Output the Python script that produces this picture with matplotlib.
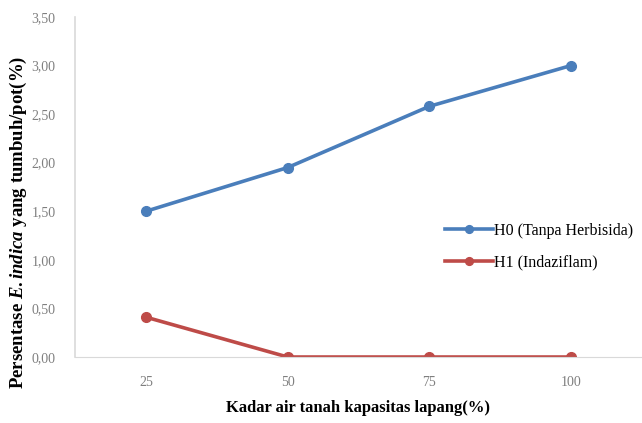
import matplotlib
matplotlib.use("Agg")
import matplotlib.pyplot as plt
from matplotlib.ticker import FuncFormatter

categories = ["25", "50", "75", "100"]
h0_values = [1.50, 1.95, 2.58, 3.00]
h1_values = [0.41, 0.00, 0.00, 0.00]
series_labels = ["H0 (Tanpa Herbisida)", "H1 (Indaziflam)"]
y_ticks = [0.0, 0.5, 1.0, 1.5, 2.0, 2.5, 3.0, 3.5]

plt.rcParams["font.family"] = ["Liberation Serif", "DejaVu Serif"]
plt.rcParams["mathtext.fontset"] = "custom"
plt.rcParams["mathtext.rm"] = "Liberation Serif:bold"
plt.rcParams["mathtext.it"] = "Liberation Serif:italic:bold"

fig = plt.figure(figsize=(6.42, 4.23), dpi=100)
ax = fig.add_axes([0.117, 0.156, 0.883, 0.804])

xs = range(len(categories))
ax.plot(xs, h0_values, color="#4A7EBB", lw=2.6, marker="o", ms=7, label=series_labels[0])
ax.plot(xs, h1_values, color="#BE4B48", lw=2.6, marker="o", ms=7, label=series_labels[1])

ax.set_xlim(-0.5, len(categories) - 0.5)
ax.set_ylim(0, 3.5)
ax.set_xticks(list(xs))
ax.set_xticklabels(categories)
ax.set_yticks(y_ticks)
ax.yaxis.set_major_formatter(FuncFormatter(lambda v, p: f"{v:.2f}".replace(".", ",")))

for side in ("top", "right"):
    ax.spines[side].set_visible(False)
ax.spines["left"].set_color("#D9D9D9")
ax.spines["bottom"].set_color("#D9D9D9")
ax.spines["left"].set_linewidth(1.2)
ax.tick_params(axis="both", length=0, colors="#7F7F7F", labelsize=10)
ax.tick_params(axis="x", pad=14)
ax.tick_params(axis="y", pad=14)

fig.text(0.557, 0.036, "Kadar air tanah kapasitas lapang(%)", ha="center", va="center",
         fontsize=12, fontweight="bold")
fig.text(0.028, 0.475, r"Persentase $\mathit{E.indica}$ yang tumbuh/pot(%)", rotation=90,
         ha="center", va="center", fontsize=13.5, fontweight="bold")

ax.legend(loc="upper left", bbox_to_anchor=(0.652, 0.395), frameon=False, fontsize=11.5,
          handlelength=3.0, handletextpad=0.1, labelspacing=1.0, borderaxespad=0,
          borderpad=0, markerscale=0.8)

fig.savefig("out.png", dpi=100)
